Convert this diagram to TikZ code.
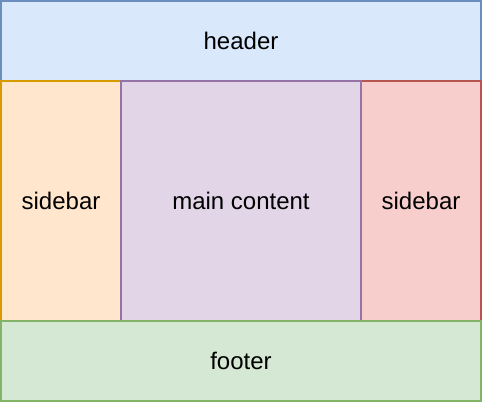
\documentclass[tikz,border=0pt]{standalone}
\usepackage{fontspec}
\setmainfont{Liberation Sans}
\definecolor{headfill}{HTML}{DAE8FC}
\definecolor{headline}{HTML}{6C8EBF}
\definecolor{leftfill}{HTML}{FFE6CC}
\definecolor{leftline}{HTML}{D79B00}
\definecolor{mainfill}{HTML}{E1D5E7}
\definecolor{mainline}{HTML}{9673A6}
\definecolor{rightfill}{HTML}{F8CECC}
\definecolor{rightline}{HTML}{B85450}
\definecolor{footfill}{HTML}{D5E8D4}
\definecolor{footline}{HTML}{82B366}
\begin{document}
\begin{tikzpicture}[x=1pt,y=-1pt,line width=2pt,
    every text node part/.style={align=center},
    region/.style={rectangle,inner sep=0pt,font=\fontsize{24}{28}\selectfont}]

    % --------------------------------------------------------- %
    % ------------- page frame
    % --------------------------------------------------------- %
    \useasboundingbox (0,0) rectangle (482,402);

    % --------------------------------------------------------- %
    % ------------- header
    % --------------------------------------------------------- %
    \node[region,fill=headfill,draw=headline,minimum width=480pt,minimum height=80pt] (header) at (241,41) {header};

    % --------------------------------------------------------- %
    % ------------- sidebars and main content
    % --------------------------------------------------------- %
    \node[region,fill=leftfill,draw=leftline,minimum width=120pt,minimum height=240pt] (leftbar) at (61,201) {sidebar};
    \node[region,fill=rightfill,draw=rightline,minimum width=120pt,minimum height=240pt] (rightbar) at (421,201) {sidebar};
    \node[region,fill=mainfill,draw=mainline,minimum width=240pt,minimum height=240pt] (content) at (241,201) {main content};

    % --------------------------------------------------------- %
    % ------------- footer
    % --------------------------------------------------------- %
    \node[region,fill=footfill,draw=footline,minimum width=480pt,minimum height=80pt] (footer) at (241,361) {footer};

\end{tikzpicture}
\end{document}
